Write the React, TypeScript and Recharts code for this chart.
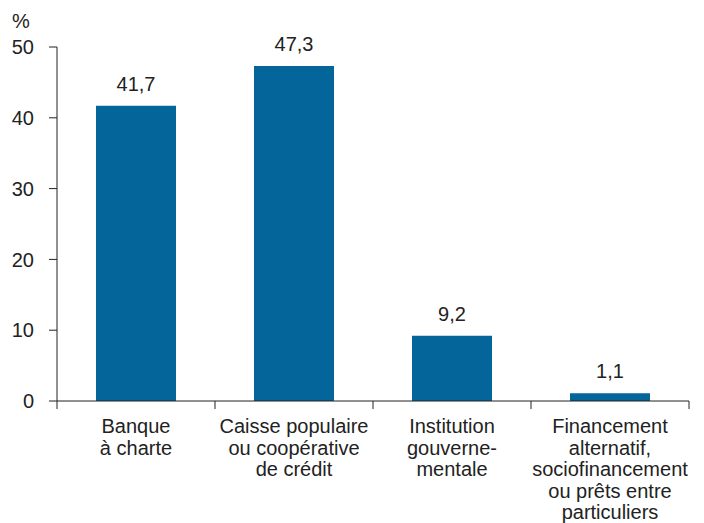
import { BarChart, Bar, XAxis, YAxis, LabelList } from 'recharts';

const categories = [
  'Banque\nà charte',
  'Caisse populaire\nou coopérative\nde crédit',
  'Institution\ngouverne-\nmentale',
  'Financement\nalternatif,\nsociofinancement\nou prêts entre\nparticuliers',
];
const values = [41.7, 47.3, 9.2, 1.1];
const yTicks = [0, 10, 20, 30, 40, 50];

const data = categories.map((name, i) => ({ name, value: values[i] }));

const FONT = '"Liberation Sans", Arial, sans-serif';
const TEXT = '#222';
const FS = 20;

const CategoryTick = (props: any) => {
  const { x, y, payload, index, visibleTicksCount } = props;
  const half = payload?.offset || 79;
  const lines = String(payload.value).split('\n');
  return (
    <g>
      <line x1={x - half} x2={x - half} y1={y - 8} y2={y} stroke={TEXT} strokeWidth={1} />
      {index === visibleTicksCount - 1 && (
        <line x1={x + half} x2={x + half} y1={y - 8} y2={y} stroke={TEXT} strokeWidth={1} />
      )}
      <text x={x} y={y} textAnchor="middle" fill={TEXT} fontSize={FS} fontFamily={FONT}>
        {lines.map((l, i) => (
          <tspan key={i} x={x} dy={i === 0 ? 24 : 21.5}>
            {l}
          </tspan>
        ))}
      </text>
    </g>
  );
};

const PercentLabel = (props: any) => {
  const vb = props.viewBox || { x: 0, y: 47 };
  return (
    <text x={vb.x + 21} y={vb.y - 19} textAnchor="middle" fill={TEXT} fontSize={FS} fontFamily={FONT}>
      %
    </text>
  );
};

export default function App() {
  return (
    <div style={{ position: 'absolute', left: 0, top: 0, background: '#fff' }}>
      <BarChart
        width={704}
        height={523}
        data={data}
        margin={{ top: 47, right: 15, bottom: 0, left: 0 }}
        barCategoryGap={0}
      >
        <XAxis
          dataKey="name"
          height={122}
          interval={0}
          tickLine={false}
          tickSize={8}
          tickMargin={0}
          axisLine={{ stroke: TEXT }}
          tick={<CategoryTick />}
        />
        <YAxis
          width={57}
          domain={[0, 50]}
          ticks={yTicks}
          interval={0}
          tickSize={8}
          tickMargin={15}
          axisLine={{ stroke: TEXT }}
          tickLine={{ stroke: TEXT }}
          tick={{ fill: TEXT, fontSize: FS, fontFamily: FONT }}
          label={<PercentLabel />}
        />
        <Bar dataKey="value" fill="#03659a" barSize={80} isAnimationActive={false}>
          <LabelList
            dataKey="value"
            position="top"
            offset={15}
            formatter={(v: any) => String(v).replace('.', ',')}
            style={{ fill: TEXT, fontSize: FS, fontFamily: FONT }}
          />
        </Bar>
      </BarChart>
    </div>
  );
}
